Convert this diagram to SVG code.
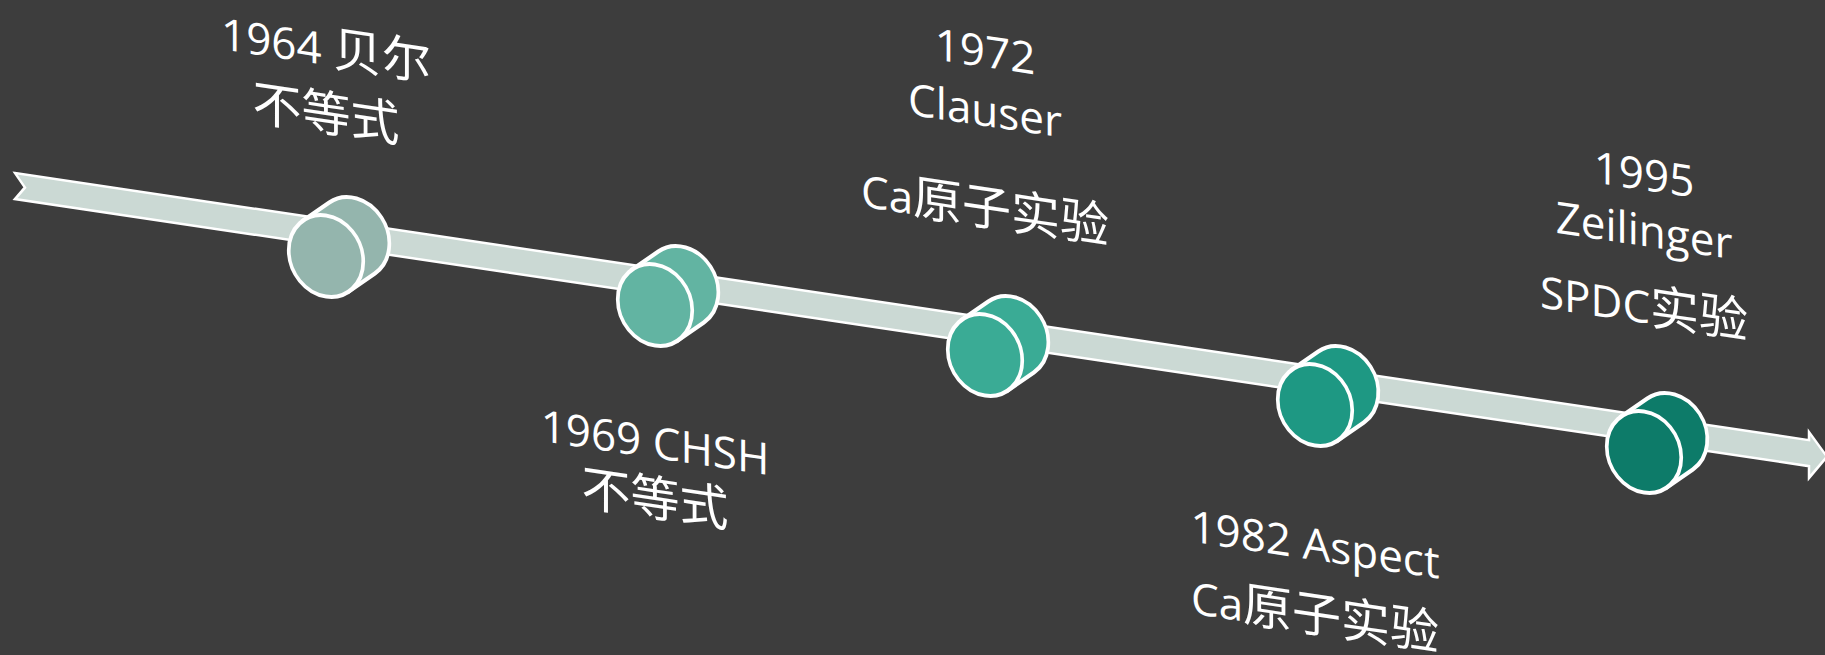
<svg xmlns="http://www.w3.org/2000/svg" width="1825" height="655" viewBox="0 0 1825 655">
  <style>
    .bg { fill: #3d3d3d; }
    .band { fill: #cbd9d4; stroke: #ffffff; stroke-width: 2.5; stroke-linejoin: miter; }
    .cyl { stroke: #ffffff; stroke-width: 4; }
    .lbl { fill: #ffffff; text-anchor: middle; }
    .la { font-family: "Open Sans", "Noto Sans CJK SC", sans-serif; font-size: 44px; }
    .cj { font-family: "Noto Sans CJK SC", sans-serif; font-size: 49px; }
  </style>
  <defs>
    <g id="cylinder">
      <path d="M0,-40.5 H35.8 A40.5,40.5 0 0 1 35.8,40.5 H0 Z" transform="rotate(-37.7)"/>
      <circle r="40.5"/>
    </g>
  </defs>
  <rect class="bg" x="0" y="0" width="1825" height="655"/>

  <g id="connectors">
    <path class="band" transform="skewY(8.47)" d="M15,170.8 L1809,170.8 L1809,162.6 L1827,184.6 L1809,208.6 L1809,196.8 L15,196.8 L25,183.8 Z"/>
  </g>

  <g id="node-1964">
    <g class="cyl" fill="#94b5ad" transform="translate(326,256) skewY(8.47) scale(0.92,1)"><use href="#cylinder"/></g>
    <g class="lbl" transform="translate(326,0) skewY(8.47)">
      <text y="65"><tspan class="la">1964 </tspan><tspan class="cj">贝尔</tspan></text>
      <text y="131" class="cj">不等式</text>
    </g>
  </g>

  <g id="node-1969">
    <g class="cyl" fill="#62b4a2" transform="translate(655,305) skewY(8.47) scale(0.92,1)"><use href="#cylinder"/></g>
    <g class="lbl" transform="translate(655,0) skewY(8.47)">
      <text y="458" class="la">1969 CHSH</text>
      <text y="516" class="cj">不等式</text>
    </g>
  </g>

  <g id="node-1972">
    <g class="cyl" fill="#3aab95" transform="translate(985,355) skewY(8.47) scale(0.92,1)"><use href="#cylinder"/></g>
    <g class="lbl" transform="translate(985,0) skewY(8.47)">
      <text y="67" class="la">1972</text>
      <text y="126" class="la">Clauser</text>
      <text y="225"><tspan class="la">Ca</tspan><tspan class="cj">原子实验</tspan></text>
    </g>
  </g>

  <g id="node-1982">
    <g class="cyl" fill="#1e9883" transform="translate(1315,405) skewY(8.47) scale(0.92,1)"><use href="#cylinder"/></g>
    <g class="lbl" transform="translate(1315,0) skewY(8.47)">
      <text y="560" class="la">1982 Aspect</text>
      <text y="632"><tspan class="la">Ca</tspan><tspan class="cj">原子实验</tspan></text>
    </g>
  </g>

  <g id="node-1995">
    <g class="cyl" fill="#0d7b69" transform="translate(1644,452) skewY(8.47) scale(0.92,1)"><use href="#cylinder"/></g>
    <g class="lbl" transform="translate(1644,0) skewY(8.47)">
      <text y="190" class="la">1995</text>
      <text y="246" class="la">Zeilinger</text>
      <text y="323"><tspan class="la">SPDC</tspan><tspan class="cj">实验</tspan></text>
    </g>
  </g>
</svg>
